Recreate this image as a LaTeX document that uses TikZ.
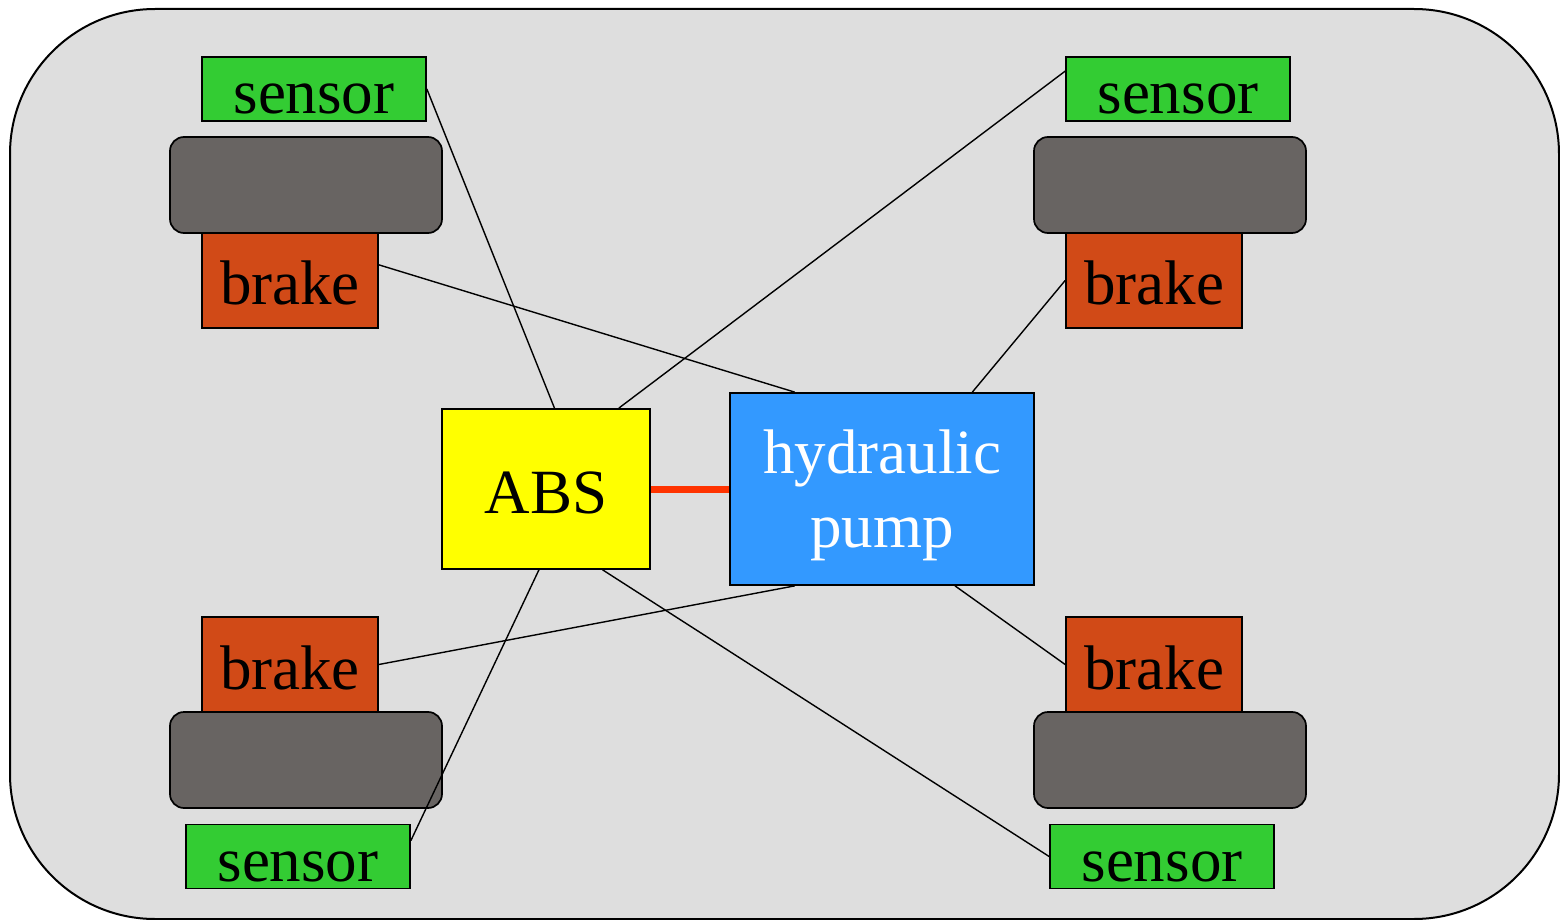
\documentclass[tikz,border=0pt]{standalone}
\usepackage{fontspec}
\setmainfont{Liberation Serif}
\definecolor{bg}{HTML}{DEDEDE}
\definecolor{sensorgreen}{HTML}{33CC33}
\definecolor{brakeorange}{HTML}{D14A17}
\definecolor{wheelgray}{HTML}{686462}
\definecolor{absyellow}{HTML}{FFFF00}
\definecolor{pumpblue}{HTML}{3399FF}
\definecolor{linkred}{HTML}{FF3300}
\tikzset{
  box/.style={draw=black, line width=0.85pt, inner sep=0pt,
    font=\fontsize{31.5}{37}\selectfont, text height=24.5pt, text depth=0pt},
  sensorbox/.style={box, fill=sensorgreen, minimum width=112pt, minimum height=32pt},
  brakebox/.style={box, fill=brakeorange, minimum width=88pt, minimum height=47.5pt},
  wheelbox/.style={draw=black, line width=0.85pt, fill=wheelgray, rounded corners=7pt,
    minimum width=136pt, minimum height=48pt, inner sep=0pt},
  wire/.style={draw=black, line width=0.7pt},
  outer/.style={draw=black, line width=1pt, fill=bg, rounded corners=72.5pt},
}
\begin{document}
\begin{tikzpicture}[x=0.5pt,y=-0.5pt]
\useasboundingbox (0,0) rectangle (1560,920);
\draw[outer] (10,9) rectangle (1559,919);
% wheels
\node[wheelbox] (wTL) at (306,185) {};
\node[wheelbox] (wTR) at (1170,185) {};
\node[wheelbox] (wBL) at (306,760) {};
\node[wheelbox] (wBR) at (1170,760) {};
% sensors
\node[sensorbox] (sTL) at (314,89) {sensor};
\node[sensorbox] (sTR) at (1178,89) {sensor};
\node[sensorbox] (sBL) at (298,856.5) {sensor};
\node[sensorbox] (sBR) at (1162,856.5) {sensor};
% brakes
\node[brakebox] (bTL) at (290,280.5) {brake};
\node[brakebox] (bTR) at (1154,280.5) {brake};
\node[brakebox] (bBL) at (290,664.5) {brake};
\node[brakebox] (bBR) at (1154,664.5) {brake};
% central
\node[box, fill=absyellow, minimum width=104pt, minimum height=80pt] (abs) at (546,489) {ABS};
\node[draw=black, line width=0.85pt, inner sep=0pt, fill=pumpblue, text=white,
  font=\fontsize{31.5}{37}\selectfont, align=center,
  minimum width=152pt, minimum height=96pt] (pump) at (882,489)
  {\raisebox{0pt}[28.5pt]{hydraulic}\\pump};
% connectors
\draw[wire] (sTL.east) -- (abs.84.3);
\draw[wire] (bTL.10) -- (pump.132.2);
\draw[wire] (sTR.171.4) -- (abs.48);
\draw[wire] (bTR.west) -- (pump.47.5);
\draw[wire] (pump.-132.2) -- (bBL.east);
\draw[wire] (abs.-95.7) -- (sBL.8.4);
\draw[wire] (pump.-53.1) -- (bBR.west);
\draw[wire] (abs.-55) -- (sBR.west);
\draw[linkred, line width=3.5pt] (abs.east) -- (pump.west);
\end{tikzpicture}
\end{document}
